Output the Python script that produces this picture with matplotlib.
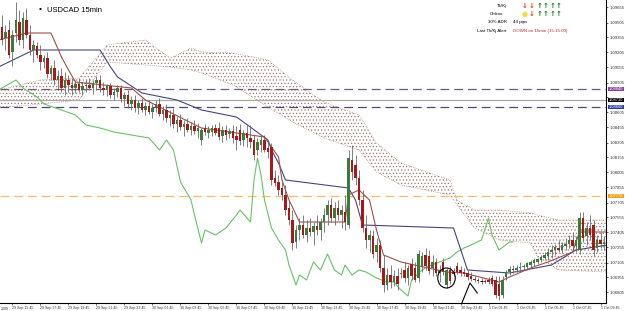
import numpy as np
import matplotlib.pyplot as plt
from matplotlib.patches import Ellipse

# USDCAD 15min candles (O/H/L/C)
opens = [1.0946, 1.0935, 1.0943, 1.0921, 1.0940, 1.0951, 1.0933, 1.0953, 1.0938, 1.0923,
         1.0927, 1.0918, 1.0911, 1.0915, 1.0899, 1.0905, 1.0893, 1.0897, 1.0885, 1.0893,
         1.0888, 1.0885, 1.0889, 1.0883, 1.0887, 1.0888, 1.0885, 1.0890, 1.0893, 1.0885,
         1.0883, 1.0887, 1.0878, 1.0881, 1.0885, 1.0874, 1.0878, 1.0869, 1.0873, 1.0865,
         1.0870, 1.0863, 1.0867, 1.0861, 1.0865, 1.0869, 1.0859, 1.0863, 1.0855, 1.0858,
         1.0849, 1.0853, 1.0846, 1.0849, 1.0843, 1.0847, 1.0842, 1.0833, 1.0845, 1.0840,
         1.0841, 1.0845, 1.0845, 1.0837, 1.0843, 1.0839, 1.0842, 1.0837, 1.0843, 1.0833,
         1.0840, 1.0835, 1.0833, 1.0823, 1.0828, 1.0833, 1.0825, 1.0826, 1.0795, 1.0791,
         1.0785, 1.0778, 1.0765, 1.0753, 1.0731, 1.0743, 1.0748, 1.0738, 1.0745, 1.0741,
         1.0747, 1.0743, 1.0751, 1.0758, 1.0768, 1.0755, 1.0765, 1.0758, 1.0761, 1.0748,
         1.0813, 1.0808, 1.0795, 1.0773, 1.0745, 1.0733, 1.0737, 1.0721, 1.0728, 1.0705,
         1.0688, 1.0698, 1.0691, 1.0697, 1.0699, 1.0703, 1.0695, 1.0709, 1.0705, 1.0695,
         1.0707, 1.0718, 1.0717, 1.0705, 1.0711, 1.0700, 1.0711, 1.0688, 1.0703, 1.0701,
         1.0707, 1.0703, 1.0701, 1.0700, 1.0697, 1.0694, 1.0693, 1.0692, 1.0692, 1.0693,
         1.0695, 1.0693, 1.0689, 1.0678, 1.0696, 1.0701, 1.0704, 1.0703, 1.0705, 1.0706,
         1.0706, 1.0708, 1.0710, 1.0711, 1.0713, 1.0715, 1.0717, 1.0721, 1.0723, 1.0725,
         1.0723, 1.0727, 1.0729, 1.0733, 1.0727, 1.0723, 1.0755, 1.0737, 1.0745, 1.0748,
         1.0725, 1.0733, 1.0729]
highs = [1.0958, 1.0948, 1.0953, 1.0943, 1.0971, 1.0963, 1.0961, 1.0965, 1.0948, 1.0933,
         1.0931, 1.0928, 1.0918, 1.0921, 1.0908, 1.0913, 1.0903, 1.0905, 1.0901, 1.0898,
         1.0895, 1.0893, 1.0895, 1.0891, 1.0893, 1.0895, 1.0893, 1.0897, 1.0898, 1.0891,
         1.0889, 1.0890, 1.0885, 1.0888, 1.0888, 1.0881, 1.0883, 1.0877, 1.0878, 1.0873,
         1.0875, 1.0871, 1.0873, 1.0869, 1.0873, 1.0875, 1.0867, 1.0869, 1.0863, 1.0865,
         1.0857, 1.0859, 1.0853, 1.0855, 1.0851, 1.0853, 1.0850, 1.0845, 1.0849, 1.0847,
         1.0848, 1.0849, 1.0851, 1.0847, 1.0848, 1.0845, 1.0848, 1.0847, 1.0849, 1.0843,
         1.0848, 1.0848, 1.0838, 1.0835, 1.0837, 1.0838, 1.0831, 1.0830, 1.0803, 1.0798,
         1.0793, 1.0788, 1.0773, 1.0763, 1.0748, 1.0755, 1.0758, 1.0753, 1.0755, 1.0751,
         1.0758, 1.0755, 1.0765, 1.0773, 1.0775, 1.0771, 1.0773, 1.0768, 1.0778, 1.0823,
         1.0828, 1.0818, 1.0803, 1.0783, 1.0758, 1.0743, 1.0743, 1.0735, 1.0733, 1.0718,
         1.0705, 1.0708, 1.0703, 1.0705, 1.0705, 1.0711, 1.0708, 1.0715, 1.0711, 1.0723,
         1.0721, 1.0725, 1.0723, 1.0718, 1.0715, 1.0708, 1.0715, 1.0705, 1.0707, 1.0705,
         1.0711, 1.0707, 1.0705, 1.0703, 1.0701, 1.0697, 1.0695, 1.0695, 1.0694, 1.0696,
         1.0698, 1.0697, 1.0697, 1.0697, 1.0703, 1.0707, 1.0708, 1.0708, 1.0711, 1.0709,
         1.0711, 1.0713, 1.0715, 1.0715, 1.0718, 1.0721, 1.0725, 1.0728, 1.0729, 1.0733,
         1.0731, 1.0735, 1.0738, 1.0741, 1.0737, 1.0761, 1.0761, 1.0751, 1.0758, 1.0753,
         1.0738, 1.0741, 1.0737]
lows = [1.0928, 1.0923, 1.0915, 1.0907, 1.0931, 1.0928, 1.0925, 1.0935, 1.0918, 1.0911,
        1.0915, 1.0903, 1.0905, 1.0895, 1.0893, 1.0888, 1.0883, 1.0881, 1.0878, 1.0881,
        1.0878, 1.0880, 1.0881, 1.0878, 1.0881, 1.0883, 1.0879, 1.0883, 1.0881, 1.0878,
        1.0877, 1.0875, 1.0873, 1.0876, 1.0871, 1.0867, 1.0865, 1.0863, 1.0861, 1.0859,
        1.0861, 1.0858, 1.0859, 1.0855, 1.0861, 1.0857, 1.0853, 1.0851, 1.0847, 1.0845,
        1.0841, 1.0843, 1.0837, 1.0841, 1.0838, 1.0839, 1.0835, 1.0828, 1.0838, 1.0835,
        1.0837, 1.0838, 1.0833, 1.0831, 1.0833, 1.0835, 1.0830, 1.0823, 1.0828, 1.0827,
        1.0826, 1.0825, 1.0813, 1.0818, 1.0821, 1.0821, 1.0815, 1.0788, 1.0787, 1.0778,
        1.0773, 1.0758, 1.0748, 1.0723, 1.0725, 1.0733, 1.0735, 1.0731, 1.0737, 1.0728,
        1.0738, 1.0733, 1.0741, 1.0748, 1.0751, 1.0748, 1.0753, 1.0745, 1.0743, 1.0745,
        1.0793, 1.0788, 1.0768, 1.0741, 1.0725, 1.0721, 1.0715, 1.0711, 1.0701, 1.0681,
        1.0683, 1.0685, 1.0687, 1.0683, 1.0695, 1.0691, 1.0688, 1.0693, 1.0691, 1.0691,
        1.0701, 1.0703, 1.0699, 1.0697, 1.0697, 1.0691, 1.0698, 1.0685, 1.0689, 1.0697,
        1.0699, 1.0697, 1.0697, 1.0693, 1.0692, 1.0691, 1.0690, 1.0689, 1.0690, 1.0689,
        1.0687, 1.0675, 1.0673, 1.0675, 1.0693, 1.0698, 1.0700, 1.0701, 1.0701, 1.0703,
        1.0703, 1.0705, 1.0707, 1.0709, 1.0711, 1.0713, 1.0713, 1.0715, 1.0718, 1.0721,
        1.0720, 1.0723, 1.0725, 1.0723, 1.0721, 1.0719, 1.0731, 1.0728, 1.0733, 1.0717,
        1.0721, 1.0725, 1.0723]
closes = [1.0933, 1.0941, 1.0918, 1.0938, 1.0953, 1.0933, 1.0955, 1.0938, 1.0923, 1.0928,
          1.0918, 1.0911, 1.0915, 1.0899, 1.0905, 1.0893, 1.0897, 1.0885, 1.0893, 1.0888,
          1.0885, 1.0889, 1.0883, 1.0887, 1.0888, 1.0885, 1.0890, 1.0893, 1.0885, 1.0883,
          1.0887, 1.0878, 1.0881, 1.0885, 1.0874, 1.0878, 1.0869, 1.0873, 1.0865, 1.0870,
          1.0863, 1.0867, 1.0861, 1.0865, 1.0869, 1.0859, 1.0863, 1.0855, 1.0858, 1.0849,
          1.0853, 1.0846, 1.0849, 1.0843, 1.0847, 1.0842, 1.0845, 1.0843, 1.0841, 1.0843,
          1.0845, 1.0840, 1.0836, 1.0843, 1.0838, 1.0842, 1.0835, 1.0833, 1.0832, 1.0840,
          1.0835, 1.0831, 1.0818, 1.0831, 1.0833, 1.0823, 1.0821, 1.0793, 1.0790, 1.0783,
          1.0778, 1.0763, 1.0753, 1.0730, 1.0743, 1.0748, 1.0738, 1.0745, 1.0741, 1.0747,
          1.0743, 1.0751, 1.0758, 1.0768, 1.0755, 1.0765, 1.0758, 1.0763, 1.0751, 1.0815,
          1.0801, 1.0795, 1.0773, 1.0745, 1.0733, 1.0738, 1.0719, 1.0728, 1.0705, 1.0688,
          1.0698, 1.0691, 1.0697, 1.0689, 1.0700, 1.0695, 1.0705, 1.0697, 1.0693, 1.0719,
          1.0717, 1.0707, 1.0702, 1.0711, 1.0700, 1.0703, 1.0701, 1.0703, 1.0692, 1.0699,
          1.0701, 1.0700, 1.0699, 1.0696, 1.0694, 1.0693, 1.0692, 1.0692, 1.0691, 1.0691,
          1.0689, 1.0678, 1.0677, 1.0693, 1.0701, 1.0704, 1.0703, 1.0705, 1.0706, 1.0707,
          1.0710, 1.0711, 1.0713, 1.0714, 1.0716, 1.0718, 1.0721, 1.0723, 1.0726, 1.0723,
          1.0728, 1.0729, 1.0733, 1.0727, 1.0733, 1.0755, 1.0735, 1.0745, 1.0738, 1.0723,
          1.0733, 1.0729, 1.0731]

# Ichimoku lines, read as vertices (bar index, price)
tenkan_bar = [-1, 7, 14, 17, 19, 21, 37, 41, 57, 75, 79, 80, 82, 85, 98, 99, 102, 105, 107,
              109, 114, 127, 132, 142, 145, 151, 156, 163, 165, 173]
tenkan = [1.0933, 1.0940, 1.0940, 1.0916, 1.0903, 1.0891, 1.0885, 1.0873, 1.0845, 1.0836,
          1.0816, 1.0793, 1.0773, 1.0751, 1.0751, 1.0778, 1.0783, 1.0773, 1.0743, 1.0718,
          1.0711, 1.0701, 1.0700, 1.0691, 1.0696, 1.0705, 1.0711, 1.0721, 1.0741, 1.0741]
kijun_bar = [-1, 9, 28, 31, 33, 40, 50, 57, 67, 76, 77, 79, 81, 99, 101, 103, 129, 133, 145,
             157, 164, 173]
kijun = [1.0906, 1.0923, 1.0923, 1.0906, 1.0896, 1.0880, 1.0873, 1.0863, 1.0856, 1.0833,
         1.0823, 1.0810, 1.0793, 1.0785, 1.0773, 1.0748, 1.0745, 1.0703, 1.0700, 1.0708,
         1.0723, 1.0728]
chikou_bar = [-1, 2, 4, 6, 10, 12, 17, 21, 24, 28, 32, 37, 42, 45, 47, 49, 51, 54, 55, 57,
              58, 61, 64, 67, 68, 71, 72, 73, 74, 75, 77, 79, 81, 82, 84, 85, 87, 89, 91, 93,
              95, 97, 98, 100, 102, 104, 107, 110, 112, 114, 116, 117, 120, 122, 125, 128, 130,
              132, 134, 137, 139, 140, 142, 145, 146]
chikou = [1.0883, 1.0889, 1.0893, 1.0885, 1.0876, 1.0869, 1.0863, 1.0858, 1.0848, 1.0845,
          1.0841, 1.0838, 1.0835, 1.0823, 1.0833, 1.0823, 1.0791, 1.0773, 1.0758, 1.0730,
          1.0743, 1.0738, 1.0745, 1.0758, 1.0763, 1.0751, 1.0793, 1.0815, 1.0798, 1.0773,
          1.0745, 1.0733, 1.0723, 1.0708, 1.0688, 1.0698, 1.0693, 1.0711, 1.0703, 1.0719,
          1.0703, 1.0698, 1.0708, 1.0698, 1.0703, 1.0701, 1.0695, 1.0691, 1.0691, 1.0683,
          1.0677, 1.0693, 1.0703, 1.0707, 1.0711, 1.0715, 1.0721, 1.0725, 1.0728, 1.0733,
          1.0755, 1.0738, 1.0723, 1.0731, 1.0731]
cloud_bar = [-1, 11, 22, 26, 30, 41, 48, 50, 54, 57, 66, 76, 83, 92, 102, 107, 114, 128, 130,
             135, 142, 151, 153, 159, 173]
cloud_top = [1.0883, 1.0893, 1.0895, 1.0911, 1.0928, 1.0933, 1.0915, 1.0918, 1.0925, 1.0921,
             1.0920, 1.0913, 1.0893, 1.0871, 1.0858, 1.0830, 1.0810, 1.0793, 1.0773, 1.0763,
             1.0763, 1.0760, 1.0758, 1.0753, 1.0753]
cloud_bot = [1.0865, 1.0869, 1.0873, 1.0893, 1.0911, 1.0908, 1.0906, 1.0905, 1.0903, 1.0900,
             1.0888, 1.0866, 1.0851, 1.0835, 1.0823, 1.0801, 1.0788, 1.0778, 1.0768, 1.0745,
             1.0733, 1.0730, 1.0716, 1.0703, 1.0701]

# horizontal levels and their label boxes
levels = [1.0884, 1.0873, 1.0866, 1.0777]
level_colors = ['#6e5a7e', '#a8a8a8', '#4a4a7a', '#f0c060']
level_styles = [(0, (7, 4)), '-', (0, (7, 4)), (0, (7, 4))]
box_colors = ['#8a3f9a', '#000000', '#2f3fa8', '#f0a020']

xtick_labels = ['29 Sep 15:45', '29 Sep 17:45', '29 Sep 19:45', '29 Sep 21:45', '29 Sep 23:45',
                '30 Sep 01:45', '30 Sep 03:45', '30 Sep 05:45', '30 Sep 07:45', '30 Sep 09:45',
                '30 Sep 11:45', '30 Sep 13:45', '30 Sep 15:45', '30 Sep 17:45', '30 Sep 19:45',
                '30 Sep 21:45', '30 Sep 23:45', '1 Oct 01:45', '1 Oct 03:45', '1 Oct 05:45',
                '1 Oct 07:45', '1 Oct 09:45']
xtick_bars = [3 + 8 * k for k in range(len(xtick_labels))]

plt.rcParams['hatch.linewidth'] = 0.5
plt.rcParams['font.family'] = ['Liberation Sans', 'DejaVu Sans']

W, H = 625, 311
fig = plt.figure(figsize=(W / 100, H / 100), dpi=100)
ax = fig.add_axes([0, 8 / H, 606 / W, 303 / H])

opens, highs, lows, closes = map(np.array, (opens, highs, lows, closes))
bars = np.arange(len(opens))

# cloud
cloud_col = '#a87870'
ax.fill_between(cloud_bar, cloud_top, cloud_bot, facecolor='none', edgecolor=cloud_col,
                hatch='.....', linewidth=0, zorder=1)
ax.plot(cloud_bar, cloud_top, color=cloud_col, lw=0.5, ls=':', zorder=1)
ax.plot(cloud_bar, cloud_bot, color=cloud_col, lw=0.5, ls=':', zorder=1)

# levels
for lv, c, s in zip(levels, level_colors, level_styles):
    ax.axhline(lv, color=c, lw=0.9, ls=s, zorder=2)

# indicator lines
ax.plot(chikou_bar, chikou, color='#66c466', lw=0.8, zorder=3)
ax.plot(kijun_bar, kijun, color='#46467e', lw=0.8, zorder=3)
ax.plot(tenkan_bar, tenkan, color='#a0504a', lw=0.8, zorder=3)

# candles
ax.vlines(bars, lows, highs, color='#6a6a6a', lw=0.6, zorder=4)
up = closes > opens
dn = closes < opens
eq = closes == opens
ax.bar(bars[up], (closes - opens)[up], bottom=opens[up], width=0.62, color='#3a7a3a', zorder=5)
ax.bar(bars[dn], (opens - closes)[dn], bottom=closes[dn], width=0.62, color='#a81818', zorder=5)
ax.hlines(closes[eq], bars[eq] - 0.4, bars[eq] + 0.4, color='#000000', lw=0.7, zorder=5)

# circle + arrow annotation
cb = 127
ax.add_patch(Ellipse((cb, (highs[cb] + lows[cb]) / 2), 5, 0.0020, fill=False,
                     edgecolor='black', lw=0.8, zorder=6))
tip = (133.7, lows[134] - 0.0002)
ax.plot([131.4, tip[0], 135.8], [1.0670, tip[1], 1.0680], color='black', lw=0.8,
        zorder=6, clip_on=False)

ax.set_xlim(-0.57, 172.57)
ax.set_ylim(1.0670, 1.0973)

# axes styling
for s in ('top', 'left'):
    ax.spines[s].set_visible(False)
for s in ('right', 'bottom'):
    ax.spines[s].set_linewidth(0.8)
ax.yaxis.tick_right()
yt = [1.06805 + 0.0015 * k for k in range(20)]
ax.set_yticks(yt)
# labels hidden behind the level boxes are left blank
ax.set_yticklabels(['' if min(abs(v - lv) for lv in levels) < 0.0005 else '%.5f' % v
                    for v in yt])
ax.tick_params(axis='y', labelsize=3.1, length=1.5, width=0.5, pad=1, colors='#333333')
ax.set_xticks(xtick_bars)
ax.set_xticklabels(xtick_labels, ha='left')
ax.tick_params(axis='x', labelsize=2.6, length=1.5, width=0.5, pad=0.6, colors='#333333')
fig.text(0.5 / W, 0.5 / H, '2009', fontsize=2.6, color='#333333', va='bottom')

# level label boxes on the price scale
for lv, bc in zip(levels, box_colors):
    ax.text(1.0045, lv, '%.5f' % lv, transform=ax.get_yaxis_transform(), fontsize=2.9,
            color='white', va='center', ha='left', zorder=10, clip_on=False,
            bbox=dict(boxstyle='square,pad=0.1', fc=bc, ec='none'))

# title
fig.text(40 / W, 1 - 10 / H, '\u2022', fontsize=6, va='center', ha='center')
fig.text(47 / W, 1 - 10 / H, 'USDCAD 15min', fontsize=5.5, va='center')

# signal panel
def ptxt(x, y, s, **kw):
    fig.text(x / W, 1 - y / H, s, va='center', **kw)

red, green = '#e03a1a', '#1f7a1f'
ptxt(497, 6, 'Tk/Kj', fontsize=3.2)
ptxt(490, 14, 'Chikou', fontsize=3.2)
ptxt(488, 22, '30% ADR', fontsize=3.2)
ptxt(477, 31, 'Last Tk/Kj Alert', fontsize=3.2)
ptxt(513, 22, '44 pips', fontsize=3.2)
ptxt(513, 31, 'DOWN on 15min (15:15:00)', fontsize=3.2, color='#b03020')
arrows1 = [('\u2193', red), ('\u2193', red), ('\u2191', green), ('\u2191', green),
           ('\u2191', green), ('\u2191', green)]
arrows2 = [('\u25cf', '#e8e050'), ('\u2193', red), ('\u2191', green), ('\u2191', green),
           ('\u2191', green), ('\u2191', green)]
ax_x = [525, 532, 540, 546, 553, 559]
for (s, c), x in zip(arrows1, ax_x):
    ptxt(x, 6, s, fontsize=5, color=c, ha='center', fontweight='bold', family='DejaVu Sans')
for (s, c), x in zip(arrows2, ax_x):
    ptxt(x, 14, s, fontsize=5, color=c, ha='center', fontweight='bold', family='DejaVu Sans')

fig.savefig('out.png', dpi=100)
